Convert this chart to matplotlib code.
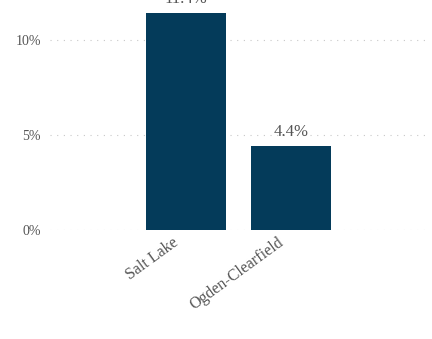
import numpy as np
import matplotlib as mpl
import matplotlib.pyplot as plt
import matplotlib.transforms as mtransforms

mpl.rcParams['font.family'] = ['Liberation Serif', 'DejaVu Serif']

areas = ['Salt Lake', 'Ogden-Clearfield']
shares = [11.4, 4.4]
yticks = [0, 5, 10]
ytick_labels = ['0%', '5%', '10%']

bar_color = '#043b5a'
text_color = '#555555'

fig = plt.figure(figsize=(4.32, 3.39), dpi=100)
ax = fig.add_axes([50 / 432, 1 - 230 / 339, 375 / 432, 228 / 339])

x = np.arange(len(areas))
bars = ax.bar(x, shares, width=0.76, color=bar_color, zorder=3)

for rect, val in zip(bars, shares):
    ax.text(rect.get_x() + rect.get_width() / 2, val + 0.35, f'{val:.1f}%',
            ha='center', va='bottom', fontsize=12, color=text_color, clip_on=False)

ax.set_xlim(-1.3, 2.28)
ax.set_ylim(0, 12)
ax.set_yticks(yticks)
ax.set_yticklabels(ytick_labels, fontsize=10, color=text_color)
ax.set_xticks(x)
ax.set_xticklabels(areas, rotation=36, ha='right', rotation_mode='anchor',
                   fontsize=11.5, color=text_color)
ax.tick_params(axis='y', length=0, pad=6.5)
ax.tick_params(axis='x', length=0, pad=3)

# nudge the rotated category labels left so they end just before the bar centre
shift = mtransforms.ScaledTranslation(-10 / 72, 0, fig.dpi_scale_trans)
for lbl in ax.get_xticklabels():
    lbl.set_transform(lbl.get_transform() + shift)

ax.yaxis.grid(True, linestyle=(0, (1, 5)), color='#c8c8c8', linewidth=0.8, zorder=0)
for side in ax.spines.values():
    side.set_visible(False)

fig.savefig('out.png', dpi=100)
